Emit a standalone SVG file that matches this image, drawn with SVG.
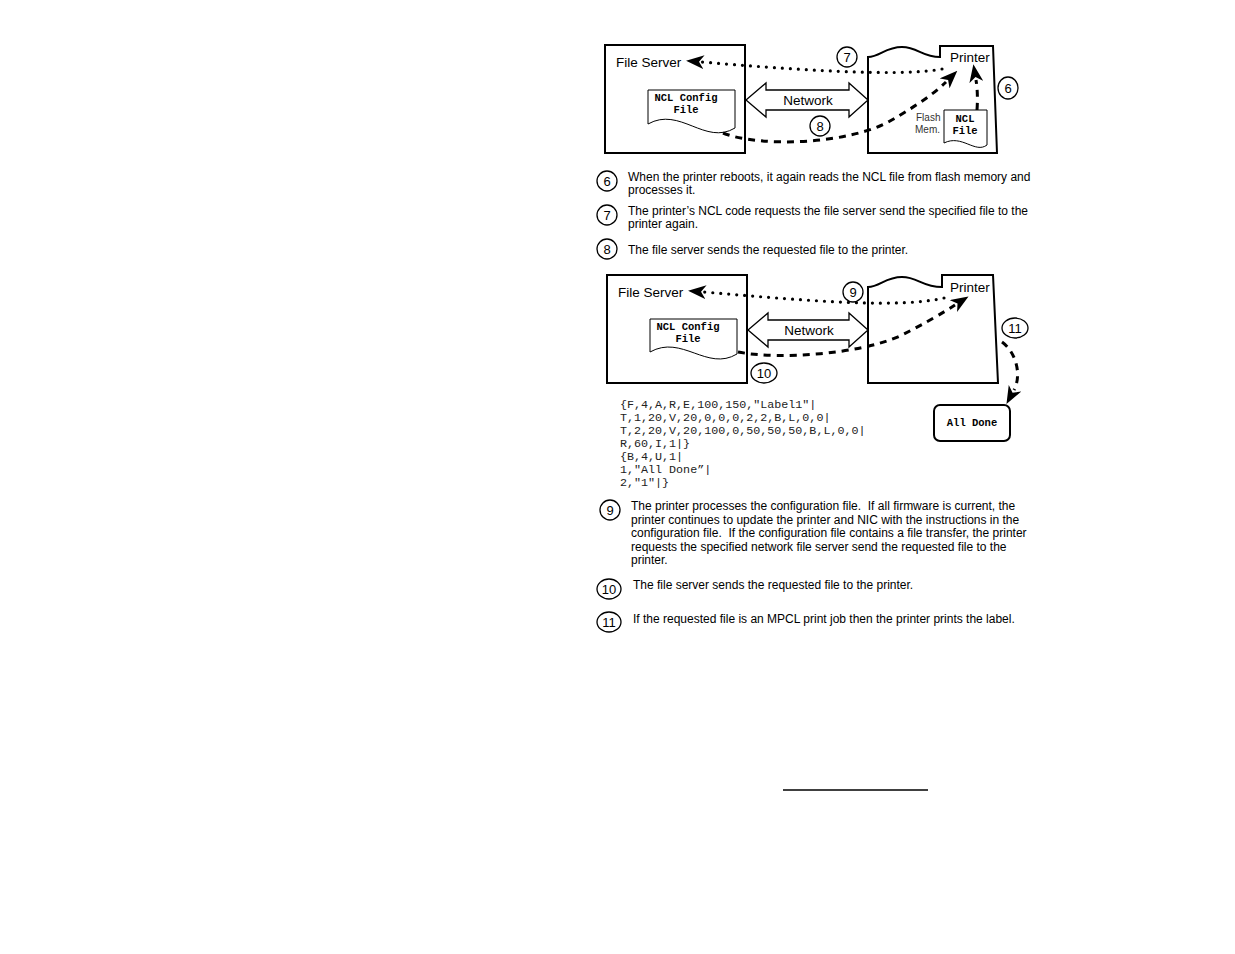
<svg xmlns="http://www.w3.org/2000/svg" width="1235" height="954" viewBox="0 0 1235 954">
<style>
.box{fill:#fff;stroke:#000;stroke-width:2}
.doc{fill:#fff;stroke:#000;stroke-width:1}
.lbl{font-family:"Liberation Sans",Arial,sans-serif;font-size:13.5px;fill:#000}
.num{font-family:"Liberation Sans",Arial,sans-serif;font-size:13px;fill:#000;text-anchor:middle}
.circ{fill:#fff;stroke:#000;stroke-width:1.3}
.mono{font-family:"Liberation Mono","Courier New",monospace;font-weight:bold;font-size:10.5px;fill:#000;text-anchor:middle}
.code{font-family:"Liberation Mono","Courier New",monospace;font-size:11.7px;fill:#222}
.para{font-family:"Liberation Sans",Arial,sans-serif;font-size:12px;fill:#000}
.small{font-family:"Liberation Sans",Arial,sans-serif;font-size:10px;fill:#333}
.dot{fill:none;stroke:#000;stroke-width:3.2;stroke-dasharray:0 8;stroke-linecap:round}
.dash{fill:none;stroke:#000;stroke-width:3;stroke-dasharray:7 6}
.net{fill:#fff;stroke:#000;stroke-width:1.3}
</style>
<defs>
<marker id="ah" viewBox="0 0 18 14" refX="2" refY="7" markerWidth="18" markerHeight="14" markerUnits="userSpaceOnUse" orient="auto">
<path d="M0,0 L18,7 L0,14 L5,7 Z" fill="#000"/>
</marker>
</defs>

<!-- ===== Top diagram ===== -->
<g id="fileserver1">
<rect class="box" x="605" y="45" width="140" height="108"/>
<text class="lbl" x="616" y="67">File Server</text>
</g>
<g id="ncldoc1">
<path class="doc" d="M648,90 H735 V128 C705,146 680,106 648,124 Z"/>
<text class="mono" x="686" y="101">NCL Config</text>
<text class="mono" x="686" y="113">File</text>
</g>
<g id="network1">
<path class="net" d="M746,100 L766,83 L766,90 L849,90 L849,83 L868,100 L849,117 L849,110 L766,110 L766,117 Z"/>
<text class="lbl" x="808" y="105" text-anchor="middle" font-size="13">Network</text>
</g>
<g id="printer1">
<path class="box" d="M868,153 V57 C880,57 885,47 902,47 C918,47 922,57 940,57 V46 H993 L997,153 Z"/>
<text class="lbl" x="950" y="62">Printer</text>
<text class="small" x="916" y="121">Flash</text>
<text class="small" x="915" y="133">Mem.</text>
<path class="doc" d="M944,110 H987 V145 C975,154 962,134 944,143 Z"/>
<text class="mono" x="965" y="122">NCL</text>
<text class="mono" x="965" y="134">File</text>
</g>
<g id="connectors1">
<path class="dot" d="M942,69 C905,76 820,72 702,62" marker-end="url(#ah)"/>
<path class="dash" d="M723,133 C760,148 850,144 890,121 C918,105 936,92 946,82" marker-end="url(#ah)"/>
<path class="dash" d="M977,110 C978,96 977,86 976,80" marker-end="url(#ah)"/>
</g>
<g id="badges1">
<circle class="circ" cx="847" cy="57" r="10"/><text class="num" x="847" y="62">7</text>
<circle class="circ" cx="820" cy="126" r="10"/><text class="num" x="820" y="131">8</text>
<ellipse class="circ" cx="1008" cy="88" rx="10" ry="11"/><text class="num" x="1008" y="93">6</text>
</g>

<!-- ===== Top paragraphs ===== -->
<g id="para1">
<circle class="circ" cx="607" cy="181" r="10"/><text class="num" x="607" y="186">6</text>
<text class="para" x="628" y="181">When the printer reboots, it again reads the NCL file from flash memory and</text>
<text class="para" x="628" y="194">processes it.</text>
<circle class="circ" cx="607" cy="215" r="10"/><text class="num" x="607" y="220">7</text>
<text class="para" x="628" y="215">The printer’s NCL code requests the file server send the specified file to the</text>
<text class="para" x="628" y="228">printer again.</text>
<circle class="circ" cx="607" cy="249" r="10"/><text class="num" x="607" y="254">8</text>
<text class="para" x="628" y="254">The file server sends the requested file to the printer.</text>
</g>

<!-- ===== Second diagram ===== -->
<g id="fileserver2">
<rect class="box" x="607" y="275" width="140" height="108"/>
<text class="lbl" x="618" y="297">File Server</text>
</g>
<g id="ncldoc2">
<path class="doc" d="M650,319 H737 V354 C707,372 682,334 650,352 Z"/>
<text class="mono" x="688" y="330">NCL Config</text>
<text class="mono" x="688" y="342">File</text>
</g>
<g id="network2">
<path class="net" d="M748,330 L768,313 L768,320 L849,320 L849,313 L868,330 L849,347 L849,340 L768,340 L768,347 Z"/>
<text class="lbl" x="809" y="335" text-anchor="middle" font-size="13">Network</text>
</g>
<g id="printer2">
<path class="box" d="M868,383 V287 C880,287 885,277 902,277 C918,277 922,287 942,287 V275 H993 L998,383 Z"/>
<text class="lbl" x="950" y="292">Printer</text>
</g>
<g id="alldone">
<rect class="box" x="934" y="405" width="76" height="36" rx="6" stroke-width="1.5"/>
<text class="mono" x="972" y="426">All Done</text>
</g>
<g id="connectors2">
<path class="dot" d="M944,298 C900,308 820,302 704,292" marker-end="url(#ah)"/>
<path class="dash" d="M738,352 C780,360 860,354 900,336 C928,322 944,312 955,305" marker-end="url(#ah)"/>
<path class="dash" d="M1002,342 C1016,352 1022,375 1014,390" marker-end="url(#ah)"/>
</g>
<g id="badges2">
<circle class="circ" cx="853" cy="292" r="10"/><text class="num" x="853" y="297">9</text>
<ellipse class="circ" cx="764" cy="373" rx="13" ry="10"/><text class="num" x="764" y="378">10</text>
<ellipse class="circ" cx="1015" cy="328" rx="13" ry="10"/><text class="num" x="1015" y="333">11</text>
</g>

<g id="code">
<text class="code" x="620" y="408">{F,4,A,R,E,100,150,"Label1"|</text>
<text class="code" x="620" y="421">T,1,20,V,20,0,0,0,2,2,B,L,0,0|</text>
<text class="code" x="620" y="434">T,2,20,V,20,100,0,50,50,50,B,L,0,0|</text>
<text class="code" x="620" y="447">R,60,I,1|}</text>
<text class="code" x="620" y="460">{B,4,U,1|</text>
<text class="code" x="620" y="473">1,"All Done”|</text>
<text class="code" x="620" y="486">2,"1"|}</text>
</g>

<!-- ===== Bottom paragraphs ===== -->
<g id="para2">
<circle class="circ" cx="610" cy="510" r="10"/><text class="num" x="610" y="515">9</text>
<text class="para" x="631" y="510" xml:space="preserve">The printer processes the configuration file.  If all firmware is current, the</text>
<text class="para" x="631" y="524">printer continues to update the printer and NIC with the instructions in the</text>
<text class="para" x="631" y="537" xml:space="preserve">configuration file.  If the configuration file contains a file transfer, the printer</text>
<text class="para" x="631" y="551">requests the specified network file server send the requested file to the</text>
<text class="para" x="631" y="564">printer.</text>
<ellipse class="circ" cx="609" cy="589" rx="12" ry="10"/><text class="num" x="609" y="594">10</text>
<text class="para" x="633" y="589">The file server sends the requested file to the printer.</text>
<ellipse class="circ" cx="609" cy="622" rx="12" ry="10"/><text class="num" x="609" y="627">11</text>
<text class="para" x="633" y="623">If the requested file is an MPCL print job then the printer prints the label.</text>
</g>

<line x1="783" y1="790" x2="928" y2="790" stroke="#000" stroke-width="1.5"/>
</svg>
